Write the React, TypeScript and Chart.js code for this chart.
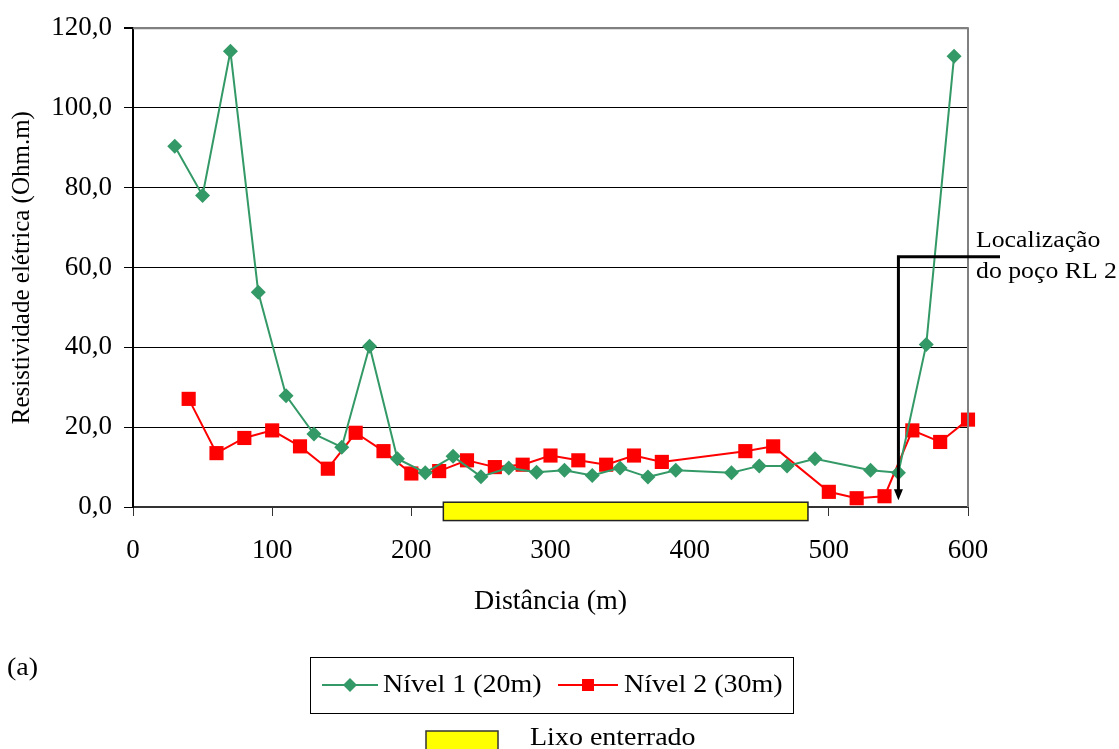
import React, { useEffect, useRef } from 'react';
import { Chart, registerables } from 'chart.js';

Chart.register(...registerables);

// ---- Data ----
const nivel1X = [30, 50, 70, 90, 110, 130, 150, 170, 190, 210, 230, 250, 270, 290, 310, 330, 350, 370, 390, 430, 450, 470, 490, 530, 550, 570, 590];
const nivel1Y = [90.4, 78.1, 114.2, 53.8, 27.9, 18.3, 15.0, 40.3, 12.1, 8.6, 12.7, 7.6, 9.8, 8.7, 9.2, 7.9, 9.8, 7.5, 9.2, 8.6, 10.3, 10.3, 12.1, 9.2, 8.6, 40.7, 113.0];
const nivel2X = [40, 60, 80, 100, 120, 140, 160, 180, 200, 220, 240, 260, 280, 300, 320, 340, 360, 380, 440, 460, 500, 520, 540, 560, 580, 600];
const nivel2Y = [27.1, 13.5, 17.3, 19.2, 15.2, 9.6, 18.6, 14.0, 8.4, 9.0, 11.7, 10.0, 10.6, 12.9, 11.7, 10.6, 12.9, 11.3, 14.0, 15.2, 3.8, 2.2, 2.7, 19.2, 16.3, 21.9];

const seriesLabels = ['Nível 1 (20m)', 'Nível 2 (30m)'];
const lixoLabel = 'Lixo enterrado';
const lixoRange = [223, 485]; // distance (m)
const lixoBand = [-3.4, 1.2]; // resistivity units (drawn across axis)
const wellX = 550;
const wellTop = 62.7;
const wellTip = 1.7;
const wellLabelEndX = 623;
const wellLabel = ['Localização', 'do poço RL 2'];
const xTicksMax = 600;
const yTicksMax = 120;

const FONT = '"Liberation Serif", "Times New Roman", serif';
const GREEN = '#339966';
const RED = '#FF0000';
const SX = 1.12;

function stretchedText(ctx: CanvasRenderingContext2D, text: string, x: number, y: number, size: number) {
  ctx.save();
  ctx.font = `${size}px ${FONT}`;
  ctx.textBaseline = 'middle';
  ctx.textAlign = 'left';
  ctx.fillStyle = '#000';
  ctx.translate(x, y);
  ctx.scale(SX, 1);
  ctx.fillText(text, 0, 0);
  ctx.restore();
}

const overlayPlugin = {
  id: 'overlay',
  afterDraw(chart: any) {
    const { ctx, chartArea } = chart;
    const xs = chart.scales.x;
    const ys = chart.scales.y;
    ctx.save();
    // plot border (top / right)
    ctx.strokeStyle = '#808080';
    ctx.lineWidth = 2;
    ctx.beginPath();
    ctx.moveTo(chartArea.left, chartArea.top);
    ctx.lineTo(chartArea.right, chartArea.top);
    ctx.lineTo(chartArea.right, chartArea.bottom);
    ctx.stroke();

    // buried waste bar
    const bx0 = xs.getPixelForValue(lixoRange[0]);
    const bx1 = xs.getPixelForValue(lixoRange[1]);
    const by0 = ys.getPixelForValue(lixoBand[1]);
    const by1 = ys.getPixelForValue(lixoBand[0]);
    ctx.fillStyle = '#FFFF00';
    ctx.fillRect(bx0, by0, bx1 - bx0, by1 - by0);
    ctx.strokeStyle = '#222';
    ctx.lineWidth = 1.5;
    ctx.strokeRect(bx0, by0, bx1 - bx0, by1 - by0);

    // well arrow
    const wx = xs.getPixelForValue(wellX);
    const wy0 = ys.getPixelForValue(wellTop);
    const wy1 = ys.getPixelForValue(wellTip);
    const lx = xs.getPixelForValue(wellLabelEndX);
    ctx.strokeStyle = '#000';
    ctx.lineWidth = 3;
    ctx.beginPath();
    ctx.moveTo(lx, wy0);
    ctx.lineTo(wx, wy0);
    ctx.lineTo(wx, wy1 - 8);
    ctx.stroke();
    ctx.fillStyle = '#000';
    ctx.beginPath();
    ctx.moveTo(wx - 4.5, wy1 - 11);
    ctx.lineTo(wx + 4.5, wy1 - 11);
    ctx.lineTo(wx, wy1);
    ctx.closePath();
    ctx.fill();
    ctx.restore();

    stretchedText(ctx, wellLabel[0], 976, 241, 23);
    stretchedText(ctx, wellLabel[1], 976, 272, 23);

    // "(a)"
    stretchedText(ctx, '(a)', 7, 668, 25);

    // legend box
    ctx.save();
    ctx.strokeStyle = '#000';
    ctx.lineWidth = 1;
    ctx.strokeRect(310.5, 657.5, 483, 56);
    const ly = 685;
    // green
    ctx.strokeStyle = GREEN;
    ctx.lineWidth = 2;
    ctx.beginPath();
    ctx.moveTo(322, ly);
    ctx.lineTo(378, ly);
    ctx.stroke();
    ctx.fillStyle = GREEN;
    ctx.beginPath();
    ctx.moveTo(350, ly - 7);
    ctx.lineTo(357, ly);
    ctx.lineTo(350, ly + 7);
    ctx.lineTo(343, ly);
    ctx.closePath();
    ctx.fill();
    // red
    ctx.strokeStyle = RED;
    ctx.beginPath();
    ctx.moveTo(558, ly);
    ctx.lineTo(618, ly);
    ctx.stroke();
    ctx.fillStyle = RED;
    ctx.fillRect(582, ly - 6, 12, 12);
    ctx.restore();
    stretchedText(ctx, seriesLabels[0], 383, ly, 25);
    stretchedText(ctx, seriesLabels[1], 624, ly, 25);

    // lixo legend
    ctx.save();
    ctx.fillStyle = '#FFFF00';
    ctx.fillRect(426, 731, 72, 20);
    ctx.strokeStyle = '#333';
    ctx.lineWidth = 1.5;
    ctx.strokeRect(426, 731, 72, 20);
    ctx.restore();
    stretchedText(ctx, lixoLabel, 530, 738, 25);
  },
};

export default function App() {
  const ref = useRef<HTMLCanvasElement>(null);
  useEffect(() => {
    if (!ref.current) return;
    const chart = new Chart(ref.current, {
      type: 'line',
      data: {
        datasets: [
          {
            label: seriesLabels[0],
            data: nivel1X.map((x, i) => ({ x, y: nivel1Y[i] })),
            borderColor: GREEN,
            backgroundColor: GREEN,
            borderWidth: 2,
            pointStyle: 'rectRot',
            pointRadius: 7.5,
            pointBorderWidth: 0,
            tension: 0,
            clip: false as any,
          },
          {
            label: seriesLabels[1],
            data: nivel2X.map((x, i) => ({ x, y: nivel2Y[i] })),
            borderColor: RED,
            backgroundColor: RED,
            borderWidth: 2,
            pointStyle: 'rect',
            pointRadius: 10,
            pointBorderWidth: 0,
            tension: 0,
            clip: false as any,
          },
        ],
      },
      options: {
        responsive: false,
        animation: false,
        layout: { padding: { left: 0, right: 151, top: 25, bottom: 127 } },
        plugins: { legend: { display: false }, tooltip: { enabled: false } },
        scales: {
          x: {
            type: 'linear',
            min: 0,
            max: xTicksMax,
            afterFit: (s: any) => { s.height = 115; },
            ticks: { stepSize: 100, color: '#000', font: { family: FONT, size: 27 }, padding: 19, maxRotation: 0 },
            grid: { drawOnChartArea: false, drawTicks: true, tickLength: 9, tickColor: '#333' },
            border: { color: '#333', width: 2 },
            title: { display: true, text: 'Distância (m)', color: '#000', font: { family: FONT, size: 28 }, padding: { top: 4, bottom: 4 } },
          },
          y: {
            min: 0,
            max: yTicksMax,
            afterFit: (s: any) => { s.width = 133; },
            ticks: {
              stepSize: 20,
              color: '#000',
              font: { family: FONT, size: 27 },
              padding: 12,
              callback: (v: any) => Number(v).toFixed(1).replace('.', ','),
            },
            grid: {
              color: (c: any) => (c.tick && c.tick.value === yTicksMax ? '#808080' : '#000'),
              lineWidth: (c: any) => (c.tick && c.tick.value === yTicksMax ? 2 : 1),
              tickLength: 9,
              tickColor: '#000',
            },
            border: { color: '#000', width: 2 },
            title: { display: true, text: 'Resistividade elétrica (Ohm.m)', color: '#000', font: { family: FONT, size: 25 }, padding: { top: 7, bottom: 4 } },
          },
        },
      },
      plugins: [overlayPlugin],
    });
    return () => chart.destroy();
  }, []);
  return (
    <div style={{ position: 'absolute', left: 0, top: 0, width: 1119, height: 749, background: '#fff' }}>
      <canvas ref={ref} width={1119} height={749} style={{ display: 'block' }} />
    </div>
  );
}
